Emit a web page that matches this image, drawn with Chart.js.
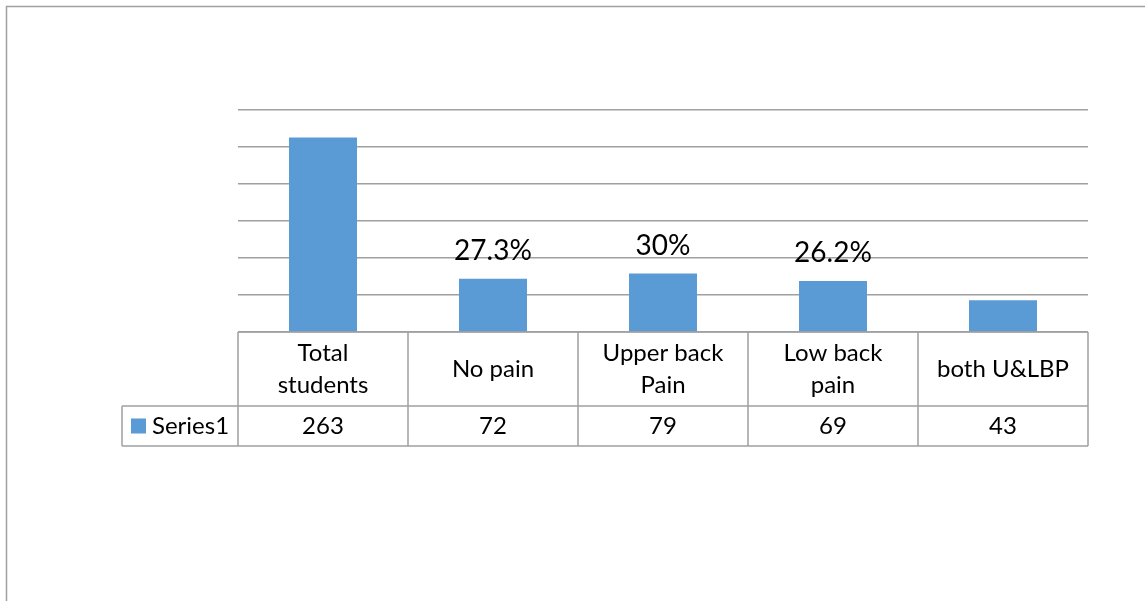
<!DOCTYPE html>
<html>
<head>
<meta charset="utf-8">
<title>Back pain among students</title>
<script src="https://cdn.jsdelivr.net/npm/chart.js@4.4.1/dist/chart.umd.min.js"></script>
<style>
  body { margin: 0; background: #ffffff; }
  #wrap { width: 1145px; height: 601px; }
</style>
</head>
<body>
<div id="wrap"><canvas id="graph" width="1145" height="601"></canvas></div>
<script>
// datos del grafico
var categorias = [["Total", "students"], ["No pain"], ["Upper back", "Pain"], ["Low back", "pain"], ["both U&LBP"]];
var serie1 = [263, 72, 79, 69, 43];
var etiquetas = ["", "27.3%", "30%", "26.2%", ""];
var nombreSerie = "Series1";
var yMax = 300;
var yPaso = 50;

var azul = "#5b9bd5";
var gris = "#a0a0a0";
var fuente = "Lato, 'Noto Sans', sans-serif";

// marco del grafico (solo arriba e izquierda)
var marco = {
    id: "marco",
    beforeDraw: function(chart) {
        var ctx = chart.ctx;
        ctx.save();
        ctx.strokeStyle = gris;
        ctx.lineWidth = 1.5;
        ctx.beginPath();
        ctx.moveTo(6.5, chart.height);
        ctx.lineTo(6.5, 6.5);
        ctx.lineTo(chart.width, 6.5);
        ctx.stroke();
        ctx.restore();
    }
};

// porcentajes encima de las barras
var porcentajes = {
    id: "porcentajes",
    afterDatasetsDraw: function(chart) {
        var ctx = chart.ctx;
        var barras = chart.getDatasetMeta(0).data;
        ctx.save();
        ctx.fillStyle = "#000";
        ctx.font = "28px " + fuente;
        ctx.textAlign = "center";
        ctx.textBaseline = "alphabetic";
        barras.forEach(function(b, i) {
            if (etiquetas[i]) ctx.fillText(etiquetas[i], b.x, b.y - 19);
        });
        ctx.restore();
    }
};

// tabla de datos debajo del eje
var tabla = {
    id: "tabla",
    afterDraw: function(chart) {
        var ctx = chart.ctx;
        var area = chart.chartArea;
        var x = chart.scales.x;
        var n = serie1.length;
        var ancho = (area.right - area.left) / n;
        var y0 = area.bottom;
        var y1 = y0 + 74;
        var y2 = y1 + 40;
        var xLeyenda = 122;

        ctx.save();
        ctx.strokeStyle = gris;
        ctx.lineWidth = 1.5;
        ctx.beginPath();
        // lineas horizontales
        ctx.moveTo(area.left, y0); ctx.lineTo(area.right, y0);
        ctx.moveTo(xLeyenda, y1); ctx.lineTo(area.right, y1);
        ctx.moveTo(xLeyenda, y2); ctx.lineTo(area.right, y2);
        // lineas verticales
        ctx.moveTo(xLeyenda, y1); ctx.lineTo(xLeyenda, y2);
        for (var i = 0; i <= n; i++) {
            var cx = area.left + i * ancho;
            ctx.moveTo(cx, y0); ctx.lineTo(cx, y2);
        }
        ctx.stroke();

        ctx.fillStyle = "#000";
        ctx.font = "24px " + fuente;
        ctx.textAlign = "center";
        ctx.textBaseline = "middle";
        var interlinea = 32;
        categorias.forEach(function(lineas, i) {
            var px = x.getPixelForValue(i);
            var inicio = (y0 + y1) / 2 - (lineas.length - 1) * interlinea / 2;
            lineas.forEach(function(t, j) {
                ctx.fillText(t, px, inicio + j * interlinea);
            });
            ctx.fillText(String(serie1[i]), px, (y1 + y2) / 2);
        });

        // leyenda de la serie
        ctx.fillStyle = azul;
        ctx.fillRect(131, (y1 + y2) / 2 - 7.5, 15, 15);
        ctx.fillStyle = "#000";
        ctx.textAlign = "left";
        ctx.fillText(nombreSerie, 152, (y1 + y2) / 2);
        ctx.restore();
    }
};

document.addEventListener("DOMContentLoaded", function() {
    var grafico = document.getElementById("graph").getContext("2d");

    new Chart(grafico, {
        type: "bar",
        data: {
            labels: categorias.map(function(c) { return c.join(" "); }),
            datasets: [
                {
                    label: nombreSerie,
                    backgroundColor: azul,
                    borderWidth: 0,
                    data: serie1,
                    barPercentage: 0.4,
                    categoryPercentage: 1
                }
            ]
        },
        options: {
            responsive: false,
            animation: false,
            layout: {
                padding: { left: 238, right: 57, top: 110, bottom: 269 }
            },
            plugins: {
                legend: { display: false },
                tooltip: { enabled: false }
            },
            scales: {
                x: {
                    display: false
                },
                y: {
                    min: 0,
                    max: yMax,
                    ticks: { display: false, stepSize: yPaso },
                    border: { display: false },
                    grid: { color: gris, lineWidth: 1.5, drawTicks: false }
                }
            }
        },
        plugins: [marco, porcentajes, tabla]
    });
});
</script>
</body>
</html>
